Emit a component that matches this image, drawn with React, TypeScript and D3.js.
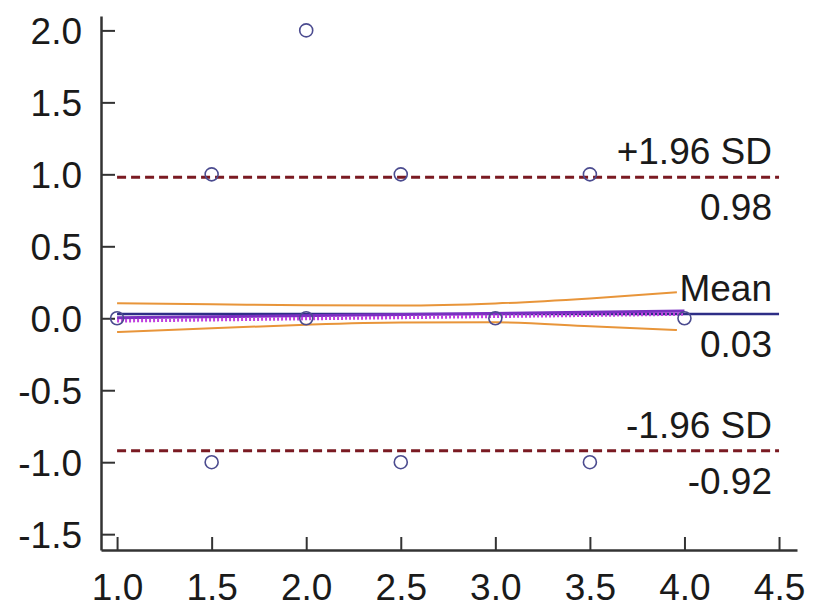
import React, { useEffect, useRef } from "react";
import * as d3 from "d3";

const xTicks = [1.0, 1.5, 2.0, 2.5, 3.0, 3.5, 4.0, 4.5];
const yTicks = [-1.5, -1.0, -0.5, 0.0, 0.5, 1.0, 1.5, 2.0];

const pointX = [1.0, 1.5, 1.5, 2.0, 2.0, 2.5, 2.5, 3.0, 3.5, 3.5, 4.0];
const pointY = [0, 1, -1, 2, 0, 1, -1, 0, 1, -1, 0];

const meanDiff = 0.03;
const upperLoA = 0.98;
const lowerLoA = -0.92;
const lineLabels = ["+1.96 SD", "Mean", "-1.96 SD"];

const ciX = [1.0, 1.5, 2.0, 2.5, 3.0, 3.5, 3.96];
const ciUpper = [0.105, 0.098, 0.09, 0.088, 0.103, 0.138, 0.18];
const ciLower = [-0.095, -0.07, -0.045, -0.03, -0.028, -0.055, -0.082];
const regX = [1.0, 4.0];
const regY = [0.003, 0.05];

const W = 839;
const H = 610;
const FONT = "'Liberation Sans', Arial, sans-serif";
const FS = 37;

export default function App() {
  const ref = useRef<SVGSVGElement | null>(null);

  useEffect(() => {
    const svg = d3.select(ref.current);
    svg.selectAll("*").remove();

    const x = d3.scaleLinear().domain([0.915, 4.595]).range([101, 797]);
    const y = d3.scaleLinear().domain([-1.61, 2.1]).range([550, 16]);

    // y axis
    const yAxis = d3
      .axisLeft(y)
      .tickValues(yTicks)
      .tickSizeInner(-14)
      .tickSizeOuter(0)
      .tickPadding(17)
      .tickFormat((d: any) => d3.format(".1f")(d).replace("−", "-"));
    const gy = svg.append("g").attr("transform", "translate(101,0)").call(yAxis);
    gy.select(".domain").attr("stroke", "#333").attr("stroke-width", 2.5);
    gy.selectAll(".tick line").attr("stroke", "#333").attr("stroke-width", 2);
    gy.selectAll(".tick text")
      .attr("font-size", FS)
      .attr("font-family", FONT)
      .attr("fill", "#1a1a1a")
      .attr("x", -19)
      .attr("dy", "0.36em");

    // x axis
    const xAxis = d3
      .axisBottom(x)
      .tickValues(xTicks)
      .tickSizeInner(-13)
      .tickSizeOuter(0)
      .tickPadding(12)
      .tickFormat((d: any) => d3.format(".1f")(d));
    const gx = svg.append("g").attr("transform", "translate(0,550)").call(xAxis);
    gx.select(".domain").attr("stroke", "#333").attr("stroke-width", 2.5);
    gx.selectAll(".tick line").attr("stroke", "#333").attr("stroke-width", 2);
    gx.selectAll(".tick text")
      .attr("font-size", FS)
      .attr("font-family", FONT)
      .attr("fill", "#1a1a1a")
      .attr("dy", "0")
      .attr("y", 50);

    // limits of agreement
    const loaColor = "#7a1a22";
    [upperLoA, lowerLoA].forEach((v) => {
      svg
        .append("line")
        .attr("x1", x(1.0))
        .attr("x2", x(4.5))
        .attr("y1", y(v))
        .attr("y2", y(v))
        .attr("stroke", loaColor)
        .attr("stroke-width", 3)
        .attr("stroke-dasharray", "9,5");
    });

    // mean line
    svg
      .append("line")
      .attr("x1", x(1.0))
      .attr("x2", x(4.5))
      .attr("y1", y(meanDiff))
      .attr("y2", y(meanDiff))
      .attr("stroke", "#2e2e86")
      .attr("stroke-width", 2.5);

    // CI lines
    const ln = d3
      .line<number>()
      .x((_d, i) => x(ciX[i]))
      .y((d) => y(d))
      .curve(d3.curveMonotoneX);
    [ciUpper, ciLower].forEach((arr) => {
      svg
        .append("path")
        .attr("d", ln(arr))
        .attr("fill", "none")
        .attr("stroke", "#e8953a")
        .attr("stroke-width", 2);
    });

    // regression line (dotted magenta)
    const rl = d3
      .line<number>()
      .x((_d, i) => x(regX[i]))
      .y((d) => y(d));
    svg
      .append("path")
      .attr("d", rl(regY))
      .attr("fill", "none")
      .attr("stroke", "#7a30c0")
      .attr("stroke-width", 3);
    svg
      .append("path")
      .attr("d", rl(regY))
      .attr("transform", "translate(0,3)")
      .attr("fill", "none")
      .attr("stroke", "#c040e0")
      .attr("stroke-width", 3.5)
      .attr("stroke-dasharray", "2,2");

    // points
    svg
      .append("g")
      .selectAll("circle")
      .data(pointX)
      .join("circle")
      .attr("cx", (d) => x(d))
      .attr("cy", (_d, i) => y(pointY[i]))
      .attr("r", 6.5)
      .attr("fill", "none")
      .attr("stroke", "#4b4b8f")
      .attr("stroke-width", 1.6);

    // labels
    const values = [upperLoA, meanDiff, lowerLoA];
    const lx = 772;
    values.forEach((v, i) => {
      svg
        .append("text")
        .attr("x", lx)
        .attr("y", y(v) - 13)
        .attr("text-anchor", "end")
        .attr("font-size", FS)
        .attr("font-family", FONT)
        .attr("fill", "#1a1a1a")
        .text(lineLabels[i]);
      svg
        .append("text")
        .attr("x", lx)
        .attr("y", y(v) + 43)
        .attr("text-anchor", "end")
        .attr("font-size", FS)
        .attr("font-family", FONT)
        .attr("fill", "#1a1a1a")
        .text(d3.format(".2f")(v).replace("−", "-"));
    });
  }, []);

  return (
    <svg
      ref={ref}
      width={W}
      height={H}
      style={{ position: "absolute", left: 0, top: 0, background: "#fff" }}
    />
  );
}
